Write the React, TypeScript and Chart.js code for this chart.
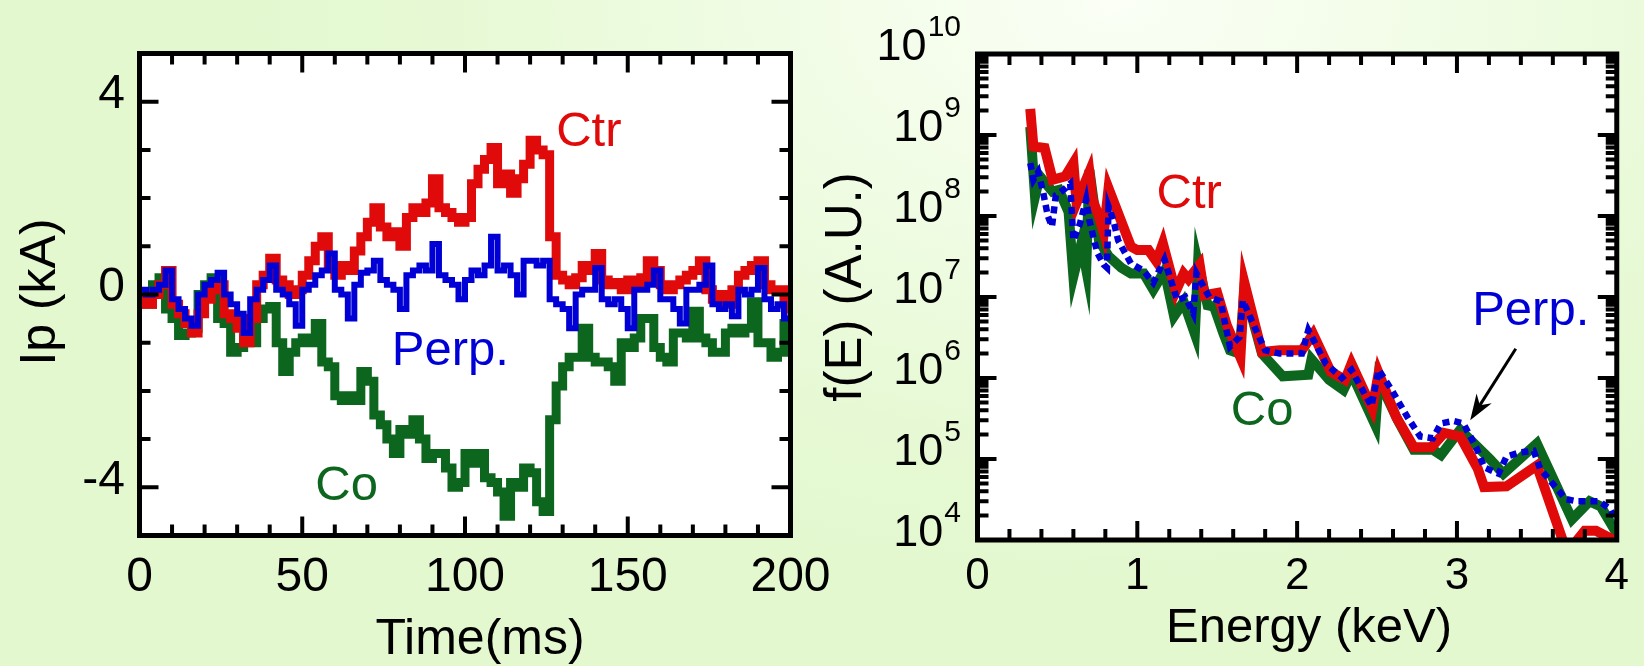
import React, { useEffect, useRef } from 'react';
import { Chart, registerables } from 'chart.js';

Chart.register(...registerables);

const FONT = '"Liberation Sans", Arial, Helvetica, sans-serif';
const RED = '#e00a0a';
const BLUE = '#0000d6';
const GREEN = '#0c661e';

// ---------- Left panel: Ip (kA) vs Time (ms) ----------
const timeMs = [
  0, 2, 4, 6, 8, 10, 12, 14, 16, 18,
  20, 22, 24, 26, 28, 30, 32, 34, 36, 38,
  40, 42, 44, 46, 48, 50, 52, 54, 56, 58,
  60, 62, 64, 66, 68, 70, 72, 74, 76, 78,
  80, 82, 84, 86, 88, 90, 92, 94, 96, 98,
  100, 102, 104, 106, 108, 110, 112, 114, 116, 118,
  120, 122, 124, 126, 128, 130, 132, 134, 136, 138,
  140, 142, 144, 146, 148, 150, 152, 154, 156, 158,
  160, 162, 164, 166, 168, 170, 172, 174, 176, 178,
  180, 182, 184, 186, 188, 190, 192, 194, 196, 198,
  200,
];
const ipCtr = [
  -0.1, -0.2, 0.0, 0.2, 0.5, -0.2, -0.4, -0.6, -0.8, -0.4,
  -0.1, 0.1, 0.2, -0.4, -0.5, -0.7, -1.0, -0.5, 0.2, 0.4,
  0.75, 0.3, 0.2, 0.0, 0.1, 0.4, 0.7, 1.0, 1.2, 0.6,
  0.4, 0.6, 0.5, 0.9, 1.2, 1.5, 1.8, 1.4, 1.2, 1.3,
  1.0, 1.6, 1.8, 1.7, 1.9, 2.4, 1.8, 1.7, 1.6, 1.5,
  1.6, 2.3, 2.6, 2.8, 3.05, 2.3, 2.5, 2.1, 2.4, 2.7,
  3.2, 3.0, 2.9, 1.2, 0.4, 0.3, 0.2, 0.35, 0.6, 0.5,
  0.85, 0.3, 0.2, 0.25, 0.1, 0.3, 0.2, 0.35, 0.7, 0.5,
  0.2, 0.1, 0.2, 0.3, 0.4, 0.5, 0.7, 0.1, -0.1, 0.0,
  -0.2, 0.1, 0.4, 0.5, 0.6, 0.7, 0.2, 0.1, 0.1, -0.2,
  -0.4,
];
const ipPerp = [
  0.1, 0.0, 0.1, 0.2, 0.5, -0.1, -0.3, -0.5, -0.65, 0.0,
  0.2, 0.3, 0.45, 0.0, -0.2, -0.4, -0.8, -0.1, 0.1, 0.3,
  0.6, 0.1, 0.0, -0.2, -0.65, 0.1, 0.2, 0.4, 0.5, 0.85,
  0.1, 0.0, -0.5, 0.2, 0.45, 0.5, 0.7, 0.3, 0.2, 0.1,
  -0.3, 0.4, 0.5, 0.6, 0.5, 1.05, 0.4, 0.3, 0.2, -0.1,
  0.3, 0.5, 0.4, 0.6, 1.2, 0.5, 0.6, 0.4, 0.0, 0.7,
  0.7, 0.6, 0.7, -0.1, -0.2, -0.3, -0.7, 0.0, 0.1, 0.1,
  0.55, -0.1, -0.2, -0.1, -0.3, -0.7, 0.1, 0.1, 0.2, 0.5,
  -0.1, -0.1, -0.3, -0.6, 0.1, 0.1, 0.2, 0.6, -0.2, -0.3,
  -0.2, -0.45, 0.1, 0.0, 0.1, 0.55, -0.1, -0.3, -0.2, -0.5,
  -0.4,
];
const ipCo = [
  -0.1, -0.2, 0.2, 0.35, -0.3, -0.5, -0.85, -0.8, -0.7, 0.0,
  0.2, 0.35, -0.5, -0.6, -1.2, -1.1, -0.9, -1.0, -0.5, -0.3,
  -0.25, -1.0, -1.6, -1.2, -1.0, -0.9, -1.0, -0.6, -1.4, -1.5,
  -2.1, -2.2, -2.1, -2.2, -1.6, -1.8, -2.5, -2.7, -3.0, -3.3,
  -2.8, -2.9, -2.6, -3.0, -3.4, -3.3, -3.3, -3.6, -4.0, -3.9,
  -3.3, -3.5, -3.3, -3.8, -3.9, -4.1, -4.6, -3.9, -4.0, -3.6,
  -3.7, -4.3, -4.5, -2.6, -1.9, -1.5, -1.3, -1.3, -0.7, -1.3,
  -1.4, -1.4, -1.5, -1.8, -1.0, -1.1, -0.9, -0.5, -0.5, -1.1,
  -1.3, -1.4, -0.8, -0.8, -0.9, -0.35, -0.9, -1.0, -1.2, -1.2,
  -0.8, -0.7, -0.8, -0.7, -0.15, -1.0, -1.0, -1.3, -1.2, -0.6,
  -0.6,
];
const timeTicks = [0, 50, 100, 150, 200];
const ipTicks = [-4, 0, 4];

// ---------- Right panel: f(E) vs Energy (keV) ----------
const ctrEnergy = [
  0.33, 0.35, 0.42, 0.47, 0.55, 0.6, 0.62, 0.7, 0.72, 0.76,
  0.79, 0.82, 0.96, 1.0, 1.07, 1.12, 1.16, 1.24, 1.29, 1.32,
  1.39, 1.42, 1.5, 1.56, 1.645, 1.67, 1.78, 1.89, 2.03, 2.1,
  2.21, 2.3, 2.34, 2.47, 2.51, 2.62, 2.73, 2.84, 2.92, 3.02,
  3.13, 3.17, 3.31, 3.5, 3.67, 3.72, 3.8, 3.87, 3.98,
];
const ctrF = [
  2.1e9, 7.2e8, 6.9e8, 2.8e8, 3.1e8, 4.5e8, 1.45e8, 3.5e8, 1.6e8, 9.8e7,
  6.2e7, 2.2e8, 4.2e7, 3.8e7, 3.8e7, 2.75e7, 4.6e7, 1.17e7, 1.95e7, 1.66e7,
  2.5e7, 1.05e7, 1.12e7, 4.5e6, 1.8e6, 1.5e7, 2.1e6, 2.2e6, 2.2e6, 3.5e6,
  1.2e6, 9.5e5, 1.5e6, 4.2e5, 1.15e6, 3.3e5, 1.4e5, 1.4e5, 2.1e5, 1.9e5,
  7.6e4, 4.5e4, 4.6e4, 8.3e4, 8.9e3, 8.3e3, 1.3e4, 1.3e4, 1.0e4,
];
const coEnergy = [
  0.33, 0.36, 0.39, 0.47, 0.51, 0.57, 0.6, 0.65, 0.68, 0.7,
  0.76, 0.82, 0.9, 0.96, 1.04, 1.1, 1.17, 1.23, 1.29, 1.36,
  1.38, 1.44, 1.48, 1.54, 1.58, 1.64, 1.67, 1.78, 1.91, 2.07,
  2.09, 2.2, 2.29, 2.34, 2.49, 2.51, 2.63, 2.73, 2.85, 2.9,
  3.02, 3.21, 3.29, 3.5, 3.72, 3.83, 3.9, 4.0,
];
const coF = [
  1.26e9, 1.74e8, 3.1e8, 2.0e8, 2.1e8, 1.12e8, 1.8e7, 4.6e7, 2.2e7, 3.7e8,
  5.0e7, 3.2e7, 2.3e7, 1.95e7, 1.95e7, 1.23e7, 2.1e7, 5.8e6, 8.7e6, 3.5e6,
  2.6e7, 7.9e6, 7.6e6, 3.5e6, 2.2e6, 2.0e6, 1.26e7, 2.0e6, 1.05e6, 1.1e6,
  1.7e6, 9.5e5, 7.1e5, 1.15e6, 2.6e5, 9.5e5, 3.0e5, 1.3e5, 1.3e5, 1.12e5,
  2.3e5, 9.8e4, 6.6e4, 1.55e5, 1.8e4, 3.0e4, 2.6e4, 1.2e4,
];
const perpEnergy = [
  0.33, 0.35, 0.38, 0.41, 0.44, 0.466, 0.49, 0.51, 0.55, 0.58,
  0.6, 0.64, 0.68, 0.7, 0.73, 0.75, 0.79, 0.81, 0.82, 0.85,
  0.88, 0.96, 1.04, 1.1, 1.17, 1.25, 1.3, 1.35, 1.37, 1.45,
  1.52, 1.58, 1.64, 1.66, 1.74, 1.8, 1.89, 2.03, 2.07, 2.18,
  2.28, 2.34, 2.465, 2.51, 2.59, 2.69, 2.77, 2.85, 2.9, 2.98,
  3.04, 3.12, 3.17, 3.26, 3.31, 3.39, 3.48, 3.52, 3.63, 3.68,
  3.75, 3.89, 3.96, 4.0,
];
const perpF = [
  4.5e8, 2.8e8, 3.5e8, 2.0e8, 1.0e8, 7.4e7, 1.8e8, 1.9e8, 2.2e8, 2.5e8,
  5.0e7, 7.9e7, 1.6e8, 8.9e7, 5.0e7, 3.5e7, 2.5e7, 2.3e7, 1.3e8, 8.9e7,
  5.0e7, 2.6e7, 2.1e7, 1.5e7, 2.9e7, 9.1e6, 1.0e7, 6.3e6, 1.95e7, 1.0e7,
  8.9e6, 2.45e6, 3.2e6, 9.1e6, 4.0e6, 2.2e6, 2.0e6, 2.0e6, 3.9e6, 1.5e6,
  1.0e6, 1.26e6, 4.5e5, 1.26e6, 7.2e5, 3.3e5, 1.9e5, 1.8e5, 2.75e5, 2.95e5,
  2.75e5, 1.4e5, 7.9e4, 6.6e4, 1.07e5, 1.2e5, 1.26e5, 7.6e4, 4.2e4, 3.2e4,
  3.0e4, 3.0e4, 2.4e4, 1.66e4,
];
const energyTicks = [0, 1, 2, 3, 4];
const fDecades = [4, 5, 6, 7, 8, 9, 10];

// annotation labels (data coordinates)
const leftNotes = [
  { text: 'Ctr', x: 128, y: 3.08, color: RED },
  { text: 'Perp.', x: 77.5, y: -1.46, color: BLUE },
  { text: 'Co', x: 54, y: -4.26, color: GREEN },
];
const rightNotes = [
  { text: 'Ctr', x: 1.12, y: 1.26e8, color: RED },
  { text: 'Co', x: 1.585, y: 2.6e5, color: GREEN },
  { text: 'Perp.', x: 3.095, y: 4.5e6, color: BLUE },
];
const arrowFrom = { x: 3.368, y: 2.3e6 };
const arrowTo = { x: 3.083, y: 3.0e5 };

function drawText(ctx: CanvasRenderingContext2D, s: string, x: number, y: number, size: number, color: string, align: CanvasTextAlign = 'left', rot = 0) {
  ctx.save();
  ctx.font = `${size}px ${FONT}`;
  ctx.fillStyle = color;
  ctx.textAlign = align;
  ctx.textBaseline = 'alphabetic';
  ctx.translate(x, y);
  if (rot) ctx.rotate(rot);
  ctx.fillText(s, 0, 0);
  ctx.restore();
}

function fillArea(chart: any) {
  const { ctx, chartArea: a } = chart;
  ctx.save();
  ctx.fillStyle = '#ffffff';
  ctx.fillRect(a.left, a.top, a.right - a.left, a.bottom - a.top);
  ctx.restore();
}

function drawFrame(chart: any, xt: [number, boolean][], yt: [number, boolean][]) {
  const { ctx, chartArea: a, scales } = chart;
  const xs = scales.x;
  const ys = scales.y;
  ctx.save();
  ctx.strokeStyle = '#000';
  ctx.lineCap = 'butt';
  ctx.lineWidth = 4;
  ctx.beginPath();
  for (const [v, major] of xt) {
    const p = xs.getPixelForValue(v);
    const len = major ? 19 : 11;
    ctx.moveTo(p, a.bottom);
    ctx.lineTo(p, a.bottom - len);
    ctx.moveTo(p, a.top);
    ctx.lineTo(p, a.top + len);
  }
  for (const [v, major] of yt) {
    const p = ys.getPixelForValue(v);
    const len = major ? 19 : 11;
    ctx.moveTo(a.left, p);
    ctx.lineTo(a.left + len, p);
    ctx.moveTo(a.right, p);
    ctx.lineTo(a.right - len, p);
  }
  ctx.stroke();
  ctx.lineWidth = 5;
  ctx.strokeRect(a.left, a.top, a.right - a.left, a.bottom - a.top);
  ctx.restore();
}

const leftDecor = {
  id: 'leftDecor',
  beforeDraw(chart: any) {
    fillArea(chart);
  },
  afterDraw(chart: any) {
    const xt: [number, boolean][] = [];
    for (let t = 10; t < 200; t += 10) xt.push([t, t % 50 === 0]);
    const yt: [number, boolean][] = [];
    for (let v = -4; v <= 4; v += 1) yt.push([v, v % 4 === 0]);
    drawFrame(chart, xt, yt);
    const { ctx, scales } = chart;
    drawText(ctx, 'Time(ms)', 480, 654, 50, '#000', 'center');
    drawText(ctx, 'Ip (kA)', 55, 292, 50, '#000', 'center', -Math.PI / 2);
    for (const n of leftNotes) {
      drawText(ctx, n.text, scales.x.getPixelForValue(n.x), scales.y.getPixelForValue(n.y), 49, n.color);
    }
  },
};

const rightDecor = {
  id: 'rightDecor',
  beforeDraw(chart: any) {
    fillArea(chart);
  },
  afterDraw(chart: any) {
    const { ctx, chartArea: a, scales } = chart;
    const xt: [number, boolean][] = [];
    for (let i = 1; i < 20; i++) xt.push([i * 0.2, i % 5 === 0]);
    const yt: [number, boolean][] = [];
    for (let n = 4; n < 10; n++) {
      for (let m = 1; m <= 9; m++) {
        if (n === 4 && m === 1) continue;
        yt.push([m * Math.pow(10, n), m === 1]);
      }
    }
    drawFrame(chart, xt, yt);
    // decade labels with superscripts
    const rightEdge = a.left - 16.5;
    for (const n of fDecades) {
      const p = scales.y.getPixelForValue(Math.pow(10, n));
      const sup = String(n);
      ctx.save();
      ctx.font = `30px ${FONT}`;
      const sw = ctx.measureText(sup).width;
      ctx.restore();
      drawText(ctx, sup, rightEdge, p - 18, 30, '#000', 'right');
      drawText(ctx, '10', rightEdge - sw - 1, p + 6, 45, '#000', 'right');
    }
    drawText(ctx, 'Energy (keV)', 487, 642, 49, '#000', 'center');
    drawText(ctx, 'f(E) (A.U.)', 39, 287, 51, '#000', 'center', -Math.PI / 2);
    for (const n of rightNotes) {
      drawText(ctx, n.text, scales.x.getPixelForValue(n.x), scales.y.getPixelForValue(n.y), 49, n.color);
    }
    // arrow
    const x0 = scales.x.getPixelForValue(arrowFrom.x);
    const y0 = scales.y.getPixelForValue(arrowFrom.y);
    const x1 = scales.x.getPixelForValue(arrowTo.x);
    const y1 = scales.y.getPixelForValue(arrowTo.y);
    const dx = x1 - x0;
    const dy = y1 - y0;
    const L = Math.hypot(dx, dy);
    const ux = dx / L;
    const uy = dy / L;
    const nx = -uy;
    const ny = ux;
    const hl = 26;
    const hw = 9;
    ctx.save();
    ctx.strokeStyle = '#000';
    ctx.fillStyle = '#000';
    ctx.lineWidth = 3;
    ctx.beginPath();
    ctx.moveTo(x0, y0);
    ctx.lineTo(x1 - ux * 16, y1 - uy * 16);
    ctx.stroke();
    ctx.beginPath();
    ctx.moveTo(x1, y1);
    ctx.lineTo(x1 - ux * hl + nx * hw, y1 - uy * hl + ny * hw);
    ctx.lineTo(x1 - ux * 18, y1 - uy * 18);
    ctx.lineTo(x1 - ux * hl - nx * hw, y1 - uy * hl - ny * hw);
    ctx.closePath();
    ctx.fill();
    ctx.restore();
  },
};

function LeftPanel() {
  const ref = useRef<HTMLCanvasElement>(null);
  useEffect(() => {
    const pts = (ys: number[]) => timeMs.map((t, i) => ({ x: t, y: ys[i] }));
    const common = { pointRadius: 0, stepped: true, clip: 0, borderJoinStyle: 'miter', fill: false };
    const chart = new Chart(ref.current as HTMLCanvasElement, {
      type: 'line',
      data: {
        datasets: [
          { label: 'Perp.', data: pts(ipPerp), borderColor: BLUE, borderWidth: 6, ...common },
          { label: 'Ctr', data: pts(ipCtr), borderColor: RED, borderWidth: 9, ...common },
          { label: 'Co', data: pts(ipCo), borderColor: GREEN, borderWidth: 9, ...common },
        ] as any,
      },
      options: {
        responsive: false,
        animation: false,
        devicePixelRatio: 1,
        events: [],
        layout: { padding: { left: 0, top: 53.5, right: 69.5, bottom: 0 }, autoPadding: false } as any,
        plugins: { legend: { display: false }, tooltip: { enabled: false } },
        scales: {
          x: {
            type: 'linear',
            min: 0,
            max: 200,
            grid: { display: false, drawTicks: false },
            border: { display: false },
            afterBuildTicks: (s: any) => { s.ticks = timeTicks.map((v) => ({ value: v })); },
            afterFit: (s: any) => { s.height = 130.5; },
            ticks: { font: { family: FONT, size: 48, lineHeight: 1 }, color: '#000', padding: 18, maxRotation: 0, autoSkip: false },
          },
          y: {
            type: 'linear',
            min: -5,
            max: 5,
            grid: { display: false, drawTicks: false },
            border: { display: false },
            afterBuildTicks: (s: any) => { s.ticks = ipTicks.map((v) => ({ value: v })); },
            afterFit: (s: any) => { s.width = 139.5; },
            ticks: { font: { family: FONT, size: 48, lineHeight: 1 }, color: '#000', padding: 14.5, labelOffset: -7 },
          },
        } as any,
      },
      plugins: [leftDecor],
    });
    return () => chart.destroy();
  }, []);
  return <canvas ref={ref} width={860} height={666} style={{ position: 'absolute', left: 0, top: 0, width: 860, height: 666 }} />;
}

function RightPanel() {
  const ref = useRef<HTMLCanvasElement>(null);
  useEffect(() => {
    const pts = (xs: number[], ys: number[]) => xs.map((x, i) => ({ x, y: ys[i] }));
    const common = { pointRadius: 0, clip: 0, borderJoinStyle: 'miter', fill: false, tension: 0 };
    const chart = new Chart(ref.current as HTMLCanvasElement, {
      type: 'line',
      data: {
        datasets: [
          { label: 'Perp.', data: pts(perpEnergy, perpF), borderColor: BLUE, borderWidth: 6.5, borderDash: [7, 5], borderCapStyle: 'butt', ...common },
          { label: 'Ctr', data: pts(ctrEnergy, ctrF), borderColor: RED, borderWidth: 10, ...common },
          { label: 'Co', data: pts(coEnergy, coF), borderColor: GREEN, borderWidth: 10, ...common },
        ] as any,
      },
      options: {
        responsive: false,
        animation: false,
        devicePixelRatio: 1,
        events: [],
        layout: { padding: { left: 0, top: 54, right: 18.5, bottom: 0 }, autoPadding: false } as any,
        plugins: { legend: { display: false }, tooltip: { enabled: false } },
        scales: {
          x: {
            type: 'linear',
            min: 0,
            max: 4,
            grid: { display: false, drawTicks: false },
            border: { display: false },
            afterBuildTicks: (s: any) => { s.ticks = energyTicks.map((v) => ({ value: v })); },
            afterFit: (s: any) => { s.height = 126; },
            ticks: { font: { family: FONT, size: 44, lineHeight: 1 }, color: '#000', padding: 15, maxRotation: 0, autoSkip: false },
          },
          y: {
            type: 'logarithmic',
            min: 1e4,
            max: 1e10,
            grid: { display: false, drawTicks: false },
            border: { display: false },
            afterFit: (s: any) => { s.width = 155.5; },
            ticks: { display: false },
          },
        } as any,
      },
      plugins: [rightDecor],
    });
    return () => chart.destroy();
  }, []);
  return <canvas ref={ref} width={822} height={666} style={{ position: 'absolute', left: 822, top: 0, width: 822, height: 666 }} />;
}

export default function App() {
  return (
    <div
      style={{
        position: 'fixed',
        left: 0,
        top: 0,
        width: 1644,
        height: 666,
        overflow: 'hidden',
        background: 'radial-gradient(ellipse 900px 600px at 68% 0%, #fbfff6 0%, #f0fce4 40%, #e6f9d4 75%, #e3f8cf 100%)',
      }}
    >
      <LeftPanel />
      <RightPanel />
    </div>
  );
}
